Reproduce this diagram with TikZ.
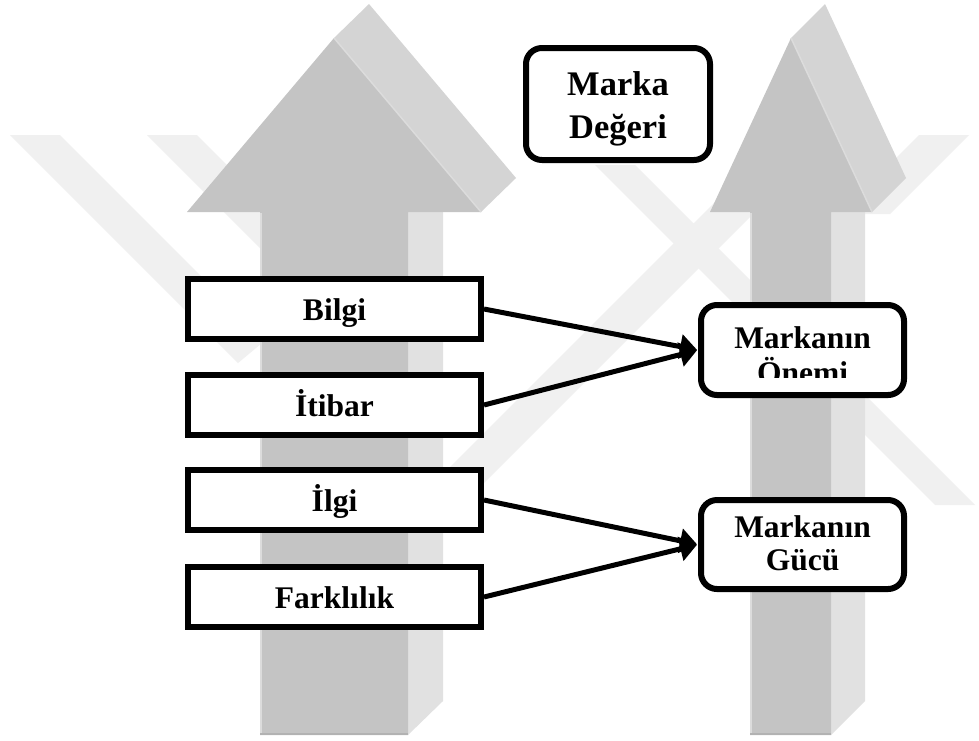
\documentclass[tikz,border=0pt]{standalone}
\usepackage{fontspec}
\setmainfont{Liberation Serif}
\usetikzlibrary{arrows.meta}
\definecolor{wmark}{HTML}{F0F0F0}
\definecolor{front}{HTML}{C4C4C4}
\definecolor{headside}{HTML}{D4D4D4}
\definecolor{shaftside}{HTML}{E1E1E1}
\definecolor{edgelight}{HTML}{DCDCDC}
\definecolor{edgedark}{HTML}{B2B2B2}
% struts that fix the line pitch inside the rounded boxes
\newcommand{\rowstrut}{\rule[-7pt]{0pt}{32pt}}
\newcommand{\bigrowstrut}{\rule[-5pt]{0pt}{39pt}}
\begin{document}
\begin{tikzpicture}[x=1pt,y=-1pt,
  wm/.style={fill=wmark},
  factorbox/.style={draw=black, line width=6pt, fill=white,
    minimum width=293pt, minimum height=60pt, inner sep=0pt,
    font=\bfseries\fontsize{31.5}{33}\selectfont,
    text height=25pt, text depth=1.5pt},
  resultbox/.style={draw=black, line width=6pt, fill=white,
    rounded corners=16pt, inner sep=0pt, align=center,
    font=\bfseries\fontsize{31.5}{33}\selectfont},
  plaintext/.style={inner sep=0pt, align=center,
    font=\bfseries\fontsize{31.5}{31}\selectfont},
  link/.style={line width=5pt, -{Triangle[length=17pt,width=24pt]}, shorten >=1pt},
]
\useasboundingbox (0,0) rectangle (979,740);
\fill[white] (0,0) rectangle (979,740);

% faint background bands
\fill[wm] (10,135) -- (60,135) -- (262,337) -- (262,343) -- (238,363) -- cycle;
\fill[wm] (147,135) -- (197,135) -- (320,258) -- (270,258) -- cycle;
\fill[wm] (969,135) -- (919,135) -- (840,214) -- (890,214) -- cycle;
\fill[wm] (832,135) -- (782,135) -- (446,471) -- (446,521) -- cycle;
\fill[wm] (595,165) -- (635,165) -- (975,505) -- (935,505) -- cycle;

% left arrow
\fill[shaftside] (408,212) -- (443,178) -- (443,701) -- (408,735) -- cycle;
\fill[headside] (334,38) -- (369,4) -- (516,178) -- (481,212) -- cycle;
\fill[front] (260,735) -- (260,212) -- (187,212) -- (334,38) -- (481,212)
  -- (408,212) -- (408,735) -- cycle;
\draw[edgelight, line width=1.5pt] (334,38) -- (481,212);
\draw[edgelight, line width=1.5pt] (261,213) -- (261,734);
\draw[edgedark, line width=2pt] (260,734) -- (408,734);

% right arrow
\fill[shaftside] (831,212) -- (865,178) -- (865,701) -- (831,735) -- cycle;
\fill[headside] (791,38) -- (825,4) -- (906,178) -- (872,212) -- cycle;
\fill[front] (750,735) -- (750,212) -- (710,212) -- (791,38) -- (872,212)
  -- (831,212) -- (831,735) -- cycle;
\draw[edgelight, line width=1.5pt] (791,38) -- (872,212);
\draw[edgelight, line width=1.5pt] (751,213) -- (751,734);
\draw[edgedark, line width=2pt] (750,734) -- (831,734);

% factor boxes
\node[factorbox] (bilgi)  at (334.5,309) {Bilgi};
\node[factorbox] (itibar) at (334.5,405) {İtibar};
\node[factorbox] (ilgi)   at (334.5,500) {İlgi};
\node[factorbox] (fark)   at (334.5,597) {Farklılık};

% result boxes
\node[resultbox, minimum width=184pt, minimum height=112pt,
  font=\bfseries\fontsize{34.5}{43}\selectfont] (deger) at (618,104)
  {\bigrowstrut Marka\\\bigrowstrut Değeri};
\node[resultbox, minimum width=203pt, minimum height=90pt] (onemi) at (802.5,350) {};
\begin{scope}
  \clip (700,300) rectangle (910,377);
  \node[plaintext] (onemitext) at (802.5,357) {\rowstrut Markanın\\\rowstrut Önemi};
\end{scope}
\node[resultbox, minimum width=203pt, minimum height=89pt] (guc) at (802.5,544.5)
  {\rowstrut Markanın\\\rowstrut Gücü};

% links
\draw[link] (bilgi.east)  -- (onemi.west);
\draw[link] (itibar.east) -- (onemi.west);
\draw[link] (ilgi.east)   -- (guc.west);
\draw[link] (fark.east)   -- (guc.west);
\end{tikzpicture}
\end{document}
